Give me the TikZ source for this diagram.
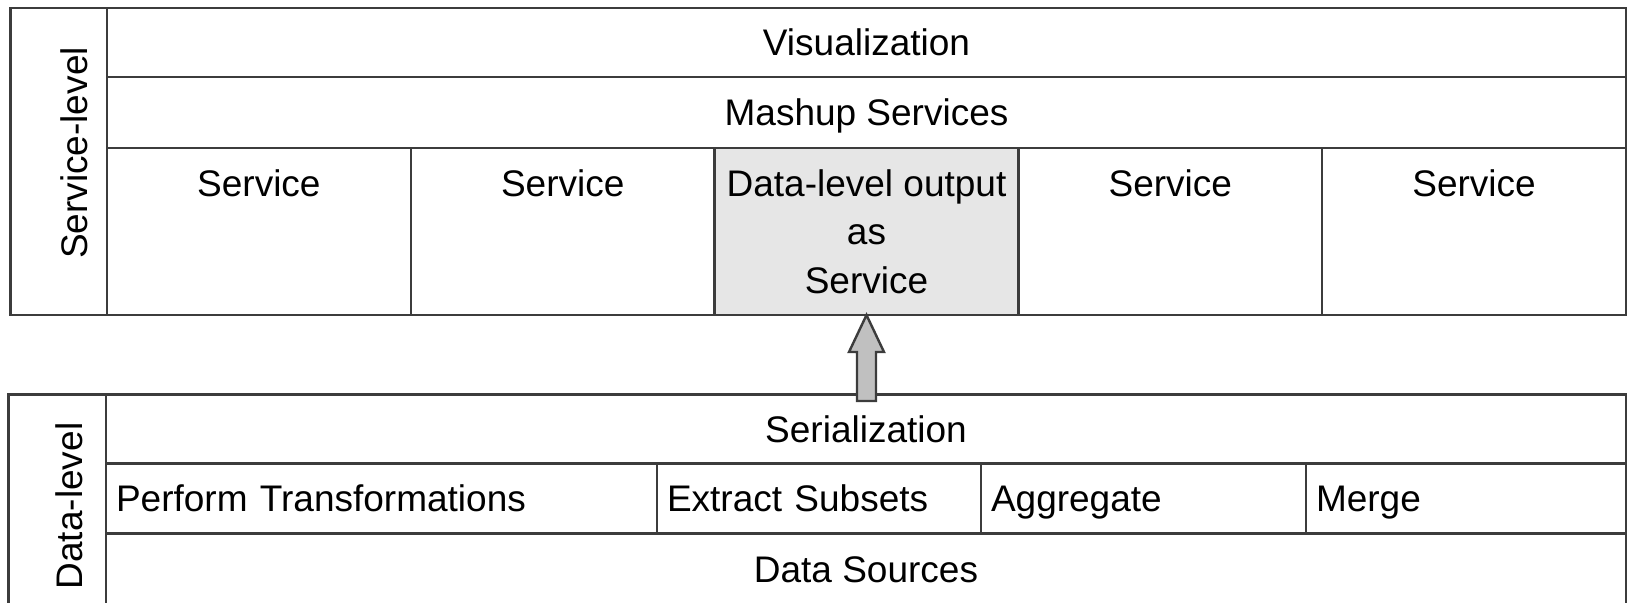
\documentclass[tikz,border=0pt]{standalone}
\usepackage{fontspec}
\setmainfont{Liberation Sans}
\usepackage{tikz}
\usetikzlibrary{positioning}

\definecolor{linegray}{RGB}{60,60,60}
\definecolor{boxgray}{RGB}{230,230,230}
\definecolor{arrowgray}{RGB}{192,192,192}

\begin{document}
\begin{tikzpicture}[x=0.5pt,y=-0.5pt,line width=1.2pt,
	font=\fontsize{18.5pt}{24.25pt}\selectfont,
	cell/.style={draw=linegray,outer sep=0pt,inner sep=0pt,text height=14pt,text depth=1pt},
	svc/.style={cell,minimum width=151.9pt,minimum height=83.5pt,text depth=49.5pt},
	op/.style={cell,minimum height=35pt,align=left,inner xsep=5pt,text width=#1},
	lvl/.style={rotate=90,anchor=base,inner sep=0pt}]
	\useasboundingbox (0,0) rectangle (1629,602);
	% service level
	\node [cell,minimum width=48.25pt,minimum height=153.5pt] (slvl) at (58.75,161.5) {};
	\node [lvl] (slvltxt) at (87,153) {Service-level};
	\node [cell,anchor=north west,minimum width=759.5pt,minimum height=34.5pt] (vis) at (slvl.north east) {Visualization};
	\node [cell,below=0pt of vis,minimum width=759.5pt,minimum height=35.5pt] (mash) {Mashup Services};
	\node [svc,anchor=north west] (svca) at (mash.south west) {Service};
	\node [svc,right=0pt of svca] (svcb) {Service};
	\node [svc,right=0pt of svcb,fill=boxgray,align=center,text height=62.5pt,text depth=1pt] (dlo) {Data-level output\\as\\Service};
	\node [svc,right=0pt of dlo] (svcd) {Service};
	\node [svc,right=0pt of svcd] (svce) {Service};
	% data level
	\node [cell,minimum width=48.75pt,minimum height=105pt] (dlvl) at (57.25,499.5) {};
	\node [lvl] (dlvltxt) at (83,506) {Data-level};
	\node [cell,anchor=north west,minimum width=760pt,minimum height=34.5pt] (ser) at (dlvl.north east) {Serialization};
	\node [op=265.5pt,anchor=north west] (trans) at (ser.south west) {Perform Transformations};
	\node [op=152pt,right=0pt of trans] (subs) {Extract Subsets};
	\node [op=152.5pt,right=0pt of subs] (aggr) {Aggregate};
	\node [op=150pt,right=0pt of aggr] (merge) {Merge};
	\node [cell,anchor=north west,minimum width=760pt,minimum height=35.5pt] (src) at (trans.south west) {Data Sources};
	% output goes up as a service
	\draw [draw=linegray,fill=arrowgray] (dlo.south) -- ++(17.5,37) -- ++(-8,0) -- ++(0,49) -- ++(-19,0) -- ++(0,-49) -- ++(-8,0) -- cycle;
\end{tikzpicture}
\end{document}
